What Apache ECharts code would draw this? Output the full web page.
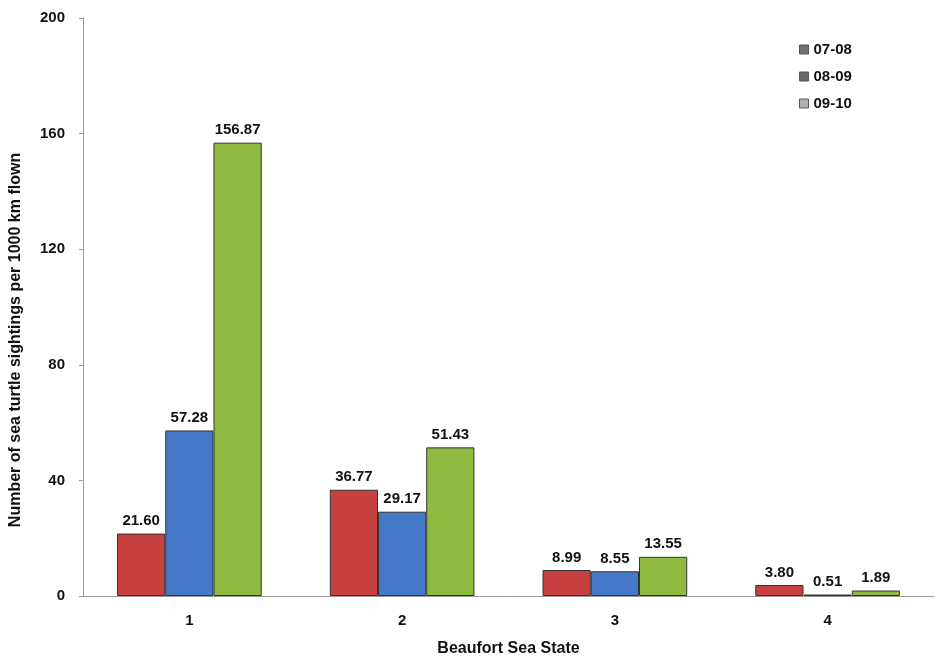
<!DOCTYPE html>
<html><head><meta charset="utf-8">
<script src="https://cdn.jsdelivr.net/npm/echarts@6/dist/echarts.min.js"></script>
<style>html,body{margin:0;padding:0;background:#fff}#c{width:935px;height:662px}</style>
</head><body><div id="c"></div>
<script>
const categories = ['1', '2', '3', '4'];
const s0708 = [21.60, 36.77, 8.99, 3.80];
const s0809 = [57.28, 29.17, 8.55, 0.51];
const s0910 = [156.87, 51.43, 13.55, 1.89];
const seriesNames = ['07-08', '08-09', '09-10'];
const colors = ['#c6403f', '#4678c8', '#8fb93f'];
const legendIconColors = ['#707070', '#6a6a6a', '#b0b0b0'];

const font = 'Liberation Sans, Arial, sans-serif';
const chart = echarts.init(document.getElementById('c'));
const mk = (name, data, i) => ({
  name, type: 'bar', data,
  barGap: '0%', barCategoryGap: '32%',
  itemStyle: { color: colors[i], borderColor: '#333', borderWidth: 1 },
  label: { show: true, position: 'top', distance: 5, fontFamily: font, fontWeight: 'bold', fontSize: 15, color: '#111',
           formatter: p => p.value.toFixed(2) }
});
chart.setOption({
  animation: false,
  backgroundColor: '#fff',
  grid: { left: 82, right: 1, top: 18, bottom: 66 },
  legend: {
    orient: 'vertical', left: 794, top: 37, itemGap: 12, itemWidth: 9, itemHeight: 9,
    icon: 'rect',
    textStyle: { fontFamily: font, fontWeight: 'bold', fontSize: 15, color: '#111' },
    data: seriesNames.map((n, i) => ({ name: n, itemStyle: { color: legendIconColors[i], borderColor: '#555', borderWidth: 1 } }))
  },
  xAxis: {
    type: 'category', data: categories,
    name: 'Beaufort Sea State', nameLocation: 'middle', nameGap: 45,
    nameTextStyle: { fontFamily: font, fontWeight: 'bold', fontSize: 16, color: '#111' },
    axisLine: { lineStyle: { color: '#999' } },
    axisTick: { show: false },
    axisLabel: { fontFamily: font, fontWeight: 'bold', fontSize: 15, color: '#111', margin: 17 }
  },
  yAxis: {
    type: 'value', min: 0, max: 200, interval: 40,
    name: 'Number of sea turtle sightings per 1000 km flown', nameLocation: 'middle', nameGap: 59,
    nameTextStyle: { fontFamily: font, fontWeight: 'bold', fontSize: 16, color: '#111', padding: [0, 66, 0, 0] },
    axisLine: { show: true, lineStyle: { color: '#999' } },
    axisTick: { show: true, length: 4, lineStyle: { color: '#999' } },
    splitLine: { show: false },
    axisLabel: { fontFamily: font, fontWeight: 'bold', fontSize: 15, color: '#111', margin: 18 }
  },
  series: [mk(seriesNames[0], s0708, 0), mk(seriesNames[1], s0809, 1), mk(seriesNames[2], s0910, 2)]
});
</script></body></html>
